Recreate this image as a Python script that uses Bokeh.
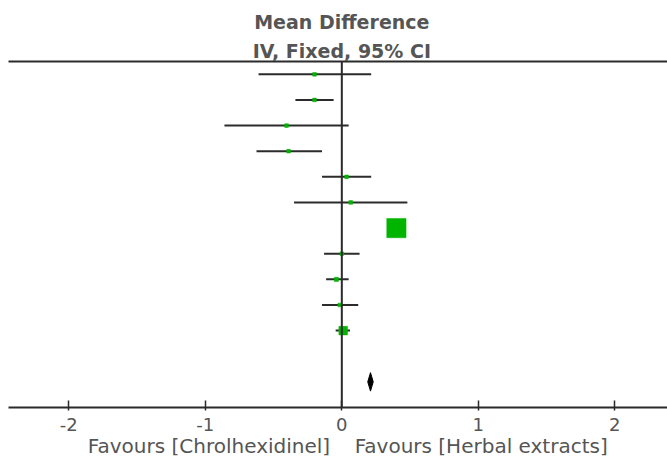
from bokeh.plotting import figure
from bokeh.models import (ColumnDataSource, Range1d, LinearAxis, FixedTicker, Span)
from bokeh.embed import file_html
from bokeh.resources import INLINE
import math

# ---- data ----
rows = [0, 1, 2, 3, 4, 5, 6, 7, 8, 9, 10]
mean_diff = [-0.20, -0.20, -0.405, -0.39, 0.035, 0.065, 0.40, 0.0, -0.04, -0.015, 0.01]
ci_low = [-0.61, -0.34, -0.86, -0.625, -0.145, -0.35, 0.35, -0.13, -0.115, -0.145, -0.045]
ci_high = [0.215, -0.06, 0.05, -0.145, 0.215, 0.48, 0.45, 0.13, 0.05, 0.12, 0.06]
weights = [2.0, 2.0, 2.0, 2.0, 2.0, 2.0, 55.0, 2.0, 2.5, 2.0, 11.0]

total_row = 12
total_md = 0.21
total_low = 0.19
total_high = 0.23

tick_values = [-2, -1, 0, 1, 2]
tick_labels = ["-2", "-1", "0", "1", "2"]
title_lines = ["Mean Difference", "IV, Fixed, 95% CI"]
favours_left = "Favours [Chrolhexidinel]"
favours_right = "Favours [Herbal extracts]"

# ---- styles ----
GREEN = "#00b400"
LINE = "#2b2b2b"
TEXT = "#555555"
FONT = "DejaVu Sans"

p = figure(width=667, height=461, output_backend="svg", toolbar_location=None,
           x_range=Range1d(-2.442, 2.386), y_range=Range1d(13.0, -0.5),
           x_axis_location=None, y_axis_location=None,
           min_border_left=8, min_border_right=0,
           min_border_top=61, min_border_bottom=54)
p.outline_line_color = None
p.grid.visible = False
p.background_fill_color = "white"
p.border_fill_color = "white"


def text_axis(ticks, labels, size, bold=False, line=False, standoff=0):
    ax = LinearAxis(ticker=FixedTicker(ticks=ticks))
    ax.major_label_overrides = {v: s for v, s in zip(ticks, labels)}
    ax.axis_line_color = LINE if line else None
    ax.axis_line_width = 2
    ax.major_tick_line_color = None
    ax.major_tick_in = 0
    ax.major_tick_out = 0
    ax.minor_tick_line_color = None
    ax.major_label_standoff = standoff
    ax.major_label_text_font = FONT
    ax.major_label_text_font_size = size
    ax.major_label_text_font_style = "bold" if bold else "normal"
    ax.major_label_text_color = TEXT
    return ax


# bottom numeric axis
xaxis = LinearAxis(ticker=FixedTicker(ticks=tick_values))
xaxis.major_label_overrides = {v: s for v, s in zip(tick_values, tick_labels)}
xaxis.axis_line_color = LINE
xaxis.axis_line_width = 2
xaxis.major_tick_line_color = LINE
xaxis.major_tick_line_width = 1.5
xaxis.major_tick_in = 7
xaxis.major_tick_out = 3
xaxis.minor_tick_line_color = None
xaxis.major_label_standoff = 7
xaxis.major_label_text_font = FONT
xaxis.major_label_text_font_size = "18px"
xaxis.major_label_text_color = TEXT
p.add_layout(xaxis, "below")

# "Favours" captions, centred under each half
p.add_layout(text_axis([-0.973, 1.021], [favours_left, favours_right], "20px", standoff=0), "below")

# header lines (top rule + two title lines centred on 0)
p.add_layout(text_axis([0], [title_lines[1]], "19px", bold=True, line=True, standoff=0), "above")
p.add_layout(text_axis([0], [title_lines[0]], "19px", bold=True, standoff=4), "above")

# line of no effect
p.add_layout(Span(location=0, dimension="height", line_color=LINE, line_width=2))

# study CIs and squares
src = ColumnDataSource(dict(
    y=rows, md=mean_diff, lo=ci_low, hi=ci_high,
    size=[2.6 * math.sqrt(w) for w in weights],
))
p.segment(x0="lo", x1="hi", y0="y", y1="y", source=src, line_color=LINE, line_width=2)
p.scatter(x="md", y="y", size="size", marker="square", source=src,
          fill_color=GREEN, line_color=GREEN, line_width=0.5)

# overall diamond
h = 0.36
p.patch([total_low, total_md, total_high, total_md],
        [total_row, total_row - h, total_row, total_row + h],
        fill_color="black", line_color="black", line_width=1)

open("out.html", "w").write(file_html(p, INLINE))
